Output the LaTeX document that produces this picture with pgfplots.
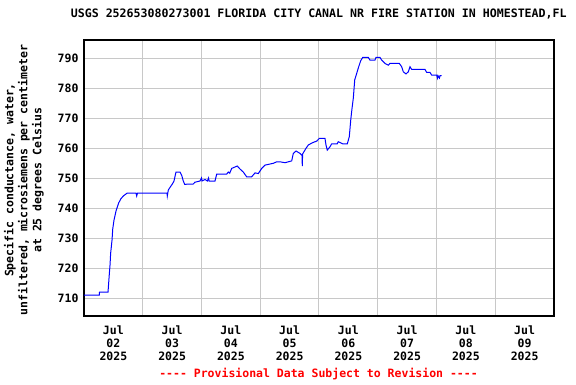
\documentclass[border=0pt]{standalone}
\usepackage{pgfplots}
\pgfplotsset{compat=1.18}
\usepackage{fontspec}
\setmainfont{DejaVu Sans Mono}
\definecolor{gridgray}{RGB}{200,200,200}
\definecolor{usgsblue}{RGB}{0,0,255}
\definecolor{usgsred}{RGB}{255,0,0}
\newcommand{\fourdash}{\hbox{-}\hbox{-}\hbox{-}\hbox{-}}
\begin{document}
\begin{tikzpicture}[x=1pt,y=1pt]
\useasboundingbox (0,0) rectangle (576,384);
\begin{axis}[
  at={(84pt,68pt)}, anchor=south west,
  scale only axis, width=470pt, height=276pt,
  xmin=0, xmax=8, ymin=704, ymax=796,
  font=\fontsize{11.5}{13}\selectfont\bfseries,
  /pgf/number format/assume math mode=true,
  xtick={1,2,3,4,5,6,7}, xticklabels={},
  extra x ticks={0.5,1.5,2.5,3.5,4.5,5.5,6.5,7.5},
  extra x tick labels={Jul\\02\\2025,Jul\\03\\2025,Jul\\04\\2025,Jul\\05\\2025,Jul\\06\\2025,Jul\\07\\2025,Jul\\08\\2025,Jul\\09\\2025},
  extra x tick style={grid=none, major tick length=0pt, xticklabel style={align=center, font=\fontsize{11.5}{13}\selectfont\bfseries, yshift=-6pt}},
  ytick={710,720,730,740,750,760,770,780,790},
  yticklabel style={xshift=-2pt},
  major tick length=0pt,
  xmajorgrids, ymajorgrids,
  grid style={gridgray, line width=1pt},
  axis line style={black, line width=1.3pt},
  title={USGS 252653080273001 FLORIDA CITY CANAL NR FIRE STATION IN HOMESTEAD,FL},
  title style={at={(axis description cs:0.4995,1.0725)}, anchor=center, font=\fontsize{11.6}{13}\selectfont\bfseries},
  ylabel={Specific conductance, water,\\unfiltered, microsiemens per centimeter\\at 25 degrees Celsius},
  ylabel style={at={(axis description cs:-0.1277,0.4928)}, anchor=center, align=center, font=\fontsize{11.5}{14}\selectfont\bfseries},
  clip mode=individual,
]
\addplot[usgsblue, line width=1pt] coordinates {
(0.000,711) (0.260,711) (0.264,712) (0.409,712) (0.420,715) (0.431,718) (0.443,721)
(0.454,725) (0.477,729.3) (0.489,733) (0.511,736) (0.545,739) (0.591,741.7) (0.625,743)
(0.669,744) (0.737,745) (0.885,745) (0.897,744) (0.911,745) (1.413,745) (1.418,744)
(1.435,746) (1.510,748.2) (1.532,749) (1.566,752) (1.634,752) (1.663,750.9) (1.690,749)
(1.714,747.9) (1.860,748) (1.889,748.6) (1.974,749) (2.000,750) (2.010,749) (2.060,749.5) (2.100,749)
(2.120,750) (2.130,749) (2.145,749) (2.230,749) (2.259,751.3) (2.429,751.3) (2.456,752)
(2.480,751.6) (2.514,753.2) (2.609,754) (2.655,753) (2.711,752) (2.769,750.4) (2.854,750.4)
(2.911,751.7) (2.967,751.5) (3.025,753.2) (3.081,754.3) (3.222,754.9) (3.280,755.4) (3.336,755.4)
(3.421,755.1) (3.535,755.7) (3.563,758.2) (3.609,759) (3.677,758.2) (3.711,757.5)
(3.716,754) (3.721,758) (3.779,759.9) (3.818,761) (3.893,761.8) (3.961,762.3)
(4.005,763.2) (4.102,763.2) (4.119,761) (4.141,759.3) (4.187,760.4) (4.216,761.4)
(4.311,761.4) (4.328,762.1) (4.403,761.4) (4.482,761.4) (4.516,763.8) (4.540,769.3)
(4.562,773.2) (4.584,776.6) (4.608,782.7) (4.642,784.9) (4.676,787.1) (4.710,789.1)
(4.744,790.2) (4.839,790.2) (4.868,789.3) (4.953,789.3) (4.970,790.2) (5.038,790.2)
(5.067,789.3) (5.123,788.2) (5.179,787.6) (5.209,788.2) (5.367,788.2) (5.407,787.1)
(5.435,785.4) (5.481,784.7) (5.520,785.4) (5.549,787.1) (5.578,786.2) (5.804,786.2)
(5.833,785.2) (5.889,785.2) (5.918,784.3) (6.003,784.3) (6.017,783.3) (6.026,784.1)
(6.050,783.3) (6.060,784.1) (6.089,784.1)
};
\node[usgsred, font=\fontsize{11.5}{13}\selectfont\bfseries, anchor=center] at (axis description cs:0.499,-0.212) {\fourdash{} Provisional Data Subject to Revision \fourdash};
\end{axis}
\end{tikzpicture}
\end{document}
